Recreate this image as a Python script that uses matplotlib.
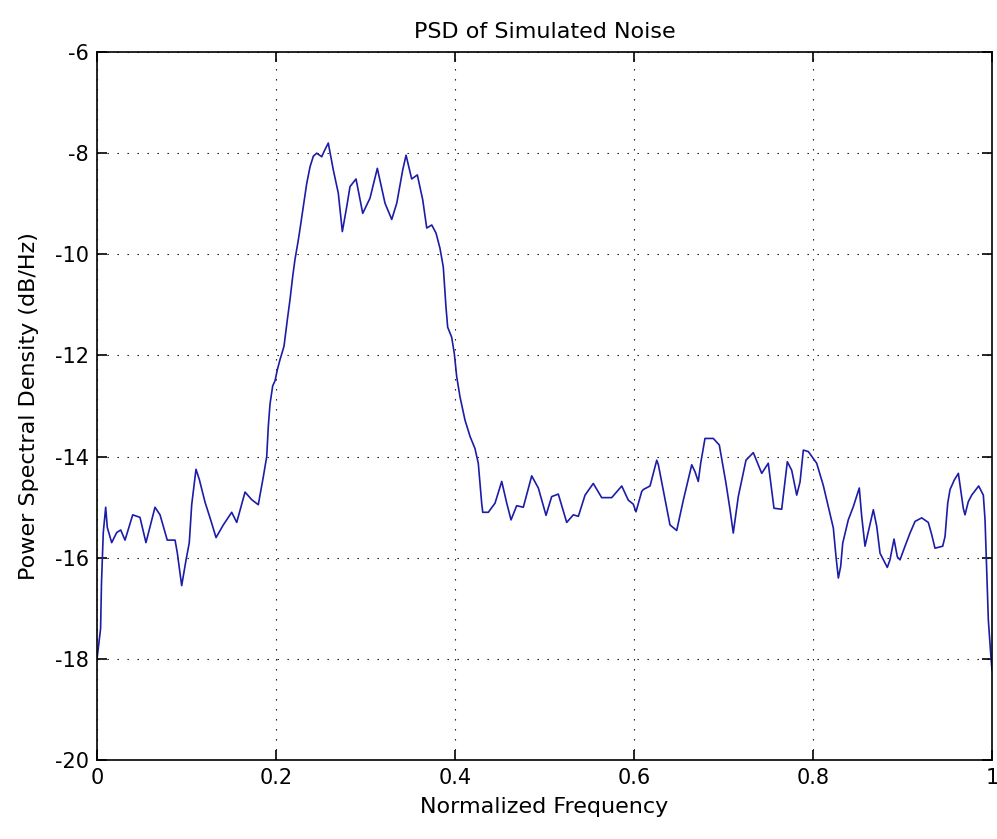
import matplotlib
matplotlib.use("Agg")
import matplotlib.pyplot as plt

# normalized frequency and PSD level (dB/Hz) along the trace
freq = [0.0, 0.004, 0.005, 0.007, 0.0097, 0.0115, 0.0164, 0.022, 0.0265, 0.0313,
        0.0399, 0.048, 0.0547, 0.0648, 0.0704, 0.0785, 0.0872, 0.0897, 0.0946, 0.0994,
        0.1031, 0.1058, 0.1106, 0.1143, 0.1207, 0.127, 0.133, 0.1411, 0.1505, 0.1561,
        0.1654, 0.1728, 0.1802, 0.1858, 0.1896, 0.1914, 0.1933, 0.1963, 0.1989, 0.2015,
        0.2045, 0.2089, 0.2126, 0.2156, 0.2187, 0.2212, 0.2249, 0.2268, 0.2305, 0.2343,
        0.238, 0.2417, 0.2455, 0.2511, 0.2536, 0.2584, 0.264, 0.2696, 0.2741, 0.279,
        0.2827, 0.2894, 0.2969, 0.305, 0.3132, 0.3218, 0.3293, 0.3349, 0.3416, 0.3453,
        0.3516, 0.3579, 0.3639, 0.3684, 0.374, 0.3788, 0.3832, 0.3869, 0.3899, 0.3918,
        0.3963, 0.3992, 0.4019, 0.4056, 0.4112, 0.4168, 0.4223, 0.426, 0.4298, 0.431,
        0.4372, 0.4447, 0.4522, 0.4578, 0.4626, 0.4689, 0.4763, 0.4857, 0.4931, 0.5017,
        0.508, 0.5154, 0.5248, 0.5322, 0.5378, 0.5453, 0.5545, 0.5639, 0.5751, 0.5863,
        0.5936, 0.5992, 0.6022, 0.6086, 0.6104, 0.6179, 0.6254, 0.6272, 0.6327, 0.6402,
        0.6477, 0.6551, 0.6645, 0.6682, 0.6718, 0.6745, 0.6793, 0.6886, 0.6953, 0.7028,
        0.7073, 0.7109, 0.7165, 0.7251, 0.7333, 0.7427, 0.75, 0.7564, 0.765, 0.7713,
        0.7762, 0.7818, 0.7855, 0.7892, 0.7948, 0.8041, 0.8115, 0.8171, 0.8227, 0.8257,
        0.8283, 0.8309, 0.8332, 0.8394, 0.845, 0.8517, 0.8544, 0.8581, 0.8618, 0.8674,
        0.8712, 0.8749, 0.883, 0.886, 0.8905, 0.8942, 0.8972, 0.9028, 0.9084, 0.914,
        0.9214, 0.9288, 0.9326, 0.9363, 0.9449, 0.9475, 0.9505, 0.9531, 0.9579, 0.9624,
        0.9642, 0.9679, 0.9698, 0.9735, 0.9773, 0.9851, 0.9903, 0.9922, 0.9941, 0.9959,
        0.9985, 1.0]
psd = [-18.0, -17.4, -16.5, -15.5, -15.0, -15.4, -15.7, -15.5, -15.45, -15.65,
       -15.15, -15.2, -15.7, -15.0, -15.15, -15.65, -15.65, -15.9, -16.55, -16.05,
       -15.7, -14.95, -14.25, -14.45, -14.9, -15.25, -15.6, -15.35, -15.1, -15.3,
       -14.7, -14.85, -14.95, -14.4, -14.0, -13.4, -12.96, -12.6, -12.5, -12.28,
       -12.08, -11.82, -11.3, -10.9, -10.43, -10.1, -9.72, -9.5, -9.05, -8.6,
       -8.27, -8.06, -8.0, -8.07, -7.97, -7.8, -8.33, -8.79, -9.55, -9.06,
       -8.66, -8.51, -9.19, -8.89, -8.3, -8.99, -9.31, -8.99, -8.33, -8.04,
       -8.51, -8.43, -8.92, -9.48, -9.42, -9.58, -9.88, -10.25, -11.04, -11.44,
       -11.64, -11.96, -12.42, -12.82, -13.28, -13.6, -13.84, -14.13, -14.92, -15.1,
       -15.1, -14.92, -14.49, -14.92, -15.25, -14.97, -15.0, -14.38, -14.62, -15.16,
       -14.79, -14.74, -15.3, -15.15, -15.18, -14.76, -14.53, -14.81, -14.81, -14.58,
       -14.86, -14.94, -15.09, -14.69, -14.65, -14.58, -14.07, -14.16, -14.66, -15.35,
       -15.46, -14.86, -14.16, -14.3, -14.49, -14.13, -13.64, -13.64, -13.77, -14.53,
       -15.05, -15.51, -14.79, -14.07, -13.92, -14.33, -14.13, -15.02, -15.04, -14.1,
       -14.27, -14.76, -14.5, -13.87, -13.9, -14.13, -14.57, -14.99, -15.41, -15.98,
       -16.4, -16.17, -15.71, -15.25, -14.99, -14.62, -15.18, -15.77, -15.48, -15.05,
       -15.38, -15.91, -16.19, -16.04, -15.63, -15.98, -16.04, -15.77, -15.51, -15.28,
       -15.21, -15.3, -15.54, -15.81, -15.77, -15.58, -14.92, -14.65, -14.46, -14.33,
       -14.56, -15.02, -15.15, -14.89, -14.76, -14.58, -14.76, -15.25, -16.24, -17.23,
       -17.89, -18.22]

xticks = [0, 0.2, 0.4, 0.6, 0.8, 1]
yticks = [-20, -18, -16, -14, -12, -10, -8, -6]

plt.rcParams['font.family'] = ['DejaVu Sans']
plt.rcParams['axes.unicode_minus'] = False

fig = plt.figure(figsize=(9.97, 8.39), dpi=100)
ax = fig.add_axes([0.0973, 0.094, 0.8977, 0.844])

ax.plot(freq, psd, color='#1c1ca8', linewidth=1.2)

ax.set_xlim(0, 1)
ax.set_ylim(-20, -6)
ax.set_xticks(xticks)
ax.set_xticklabels([f"{t:g}" for t in xticks])
ax.set_yticks(yticks)
ax.set_yticklabels([f"{t:g}" for t in yticks])

ax.grid(True, color='black', linestyle=(0, (1.2, 7.8)), linewidth=0.8)
ax.tick_params(direction='in', length=7, width=1.2, top=True, right=True,
               labelsize=15, pad=6)
for s in ax.spines.values():
    s.set_linewidth(1.2)

ax.set_title("PSD of Simulated Noise", fontsize=16, pad=10)
ax.set_xlabel("Normalized Frequency", fontsize=16, labelpad=6)
ax.set_ylabel("Power Spectral Density (dB/Hz)", fontsize=16, labelpad=11)

fig.savefig("out.png", dpi=100)
